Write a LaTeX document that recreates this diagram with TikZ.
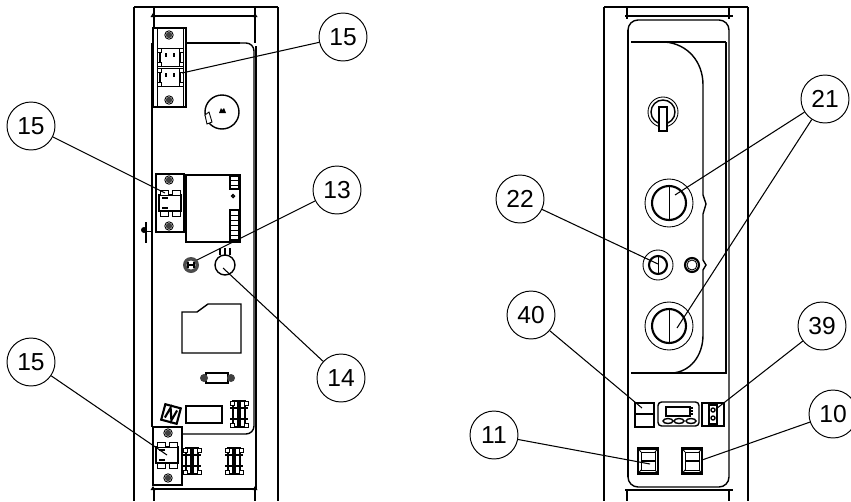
\documentclass[tikz,border=0pt]{standalone}
\usepackage{fontspec}
\setmainfont{Liberation Sans}
\usepackage{tikz}

\tikzset{
  callout/.style={draw,circle,minimum size=0.96cm,inner sep=0pt,font=\fontsize{14}{16}\selectfont,line width=0.55pt},
  leader/.style={line width=0.6pt},
  thinline/.style={line width=0.5pt},
  midline/.style={line width=0.8pt},
  heavyline/.style={line width=1.2pt}
}
% one relay, centred on (#1,#2), half width #3, half height #4
\newcommand{\relayunit}[4]{
  \begin{scope}[shift={(#1,#2)}]
    \draw[heavyline] (-#3,-#4+5) rectangle (#3,#4-5);
    \draw[thinline,fill=white] (-#3+1,-#4) rectangle (-2,-#4+5);
    \draw[thinline,fill=white] (2,-#4) rectangle (#3-1,-#4+5);
    \draw[thinline,fill=white] (-#3+1,#4-5) rectangle (-2,#4);
    \draw[thinline,fill=white] (2,#4-5) rectangle (#3-1,#4);
  \end{scope}
}
% one of the stacked relays of the top bracket
\newcommand{\pairunit}[2]{
  \begin{scope}[shift={(#1,#2)}]
    \draw[thinline] (-10,-9) rectangle (10,9);
    \draw[heavyline] (-10,-5) -- (-10,5) (10,-5) -- (10,5);
    \draw[midline] (-4,-4) -- (-4,0) (4,-4) -- (4,0);
    \draw[thinline,fill=white] (-13,-9) rectangle (-9,-5);
    \draw[thinline,fill=white] (9,-9) rectangle (13,-5);
    \draw[thinline,fill=white] (-13,5) rectangle (-9,9);
    \draw[thinline,fill=white] (9,5) rectangle (13,9);
  \end{scope}
}
\newcommand{\screwhead}[2]{
  \fill[black!75] (#1,#2) circle (3.2);
  \draw[thinline] (#1,#2) circle (4.2);
}
% terminal block, centred on (#1,#2)
\newcommand{\termblock}[2]{
  \begin{scope}[shift={(#1,#2)}]
    \draw[midline] (-6,-13) rectangle (-1,13);
    \draw[midline] (1,-13) rectangle (6,13);
    \draw[midline] (-9,-6) -- (9,-6);
    \draw[midline] (-9,5) -- (9,5);
    \foreach \px/\py in {-9/-13,5/-13,-9/9,5/9}{
      \draw[thinline,fill=white] (\px,\py) rectangle ++(4,4);
    }
  \end{scope}
}
% rocker switch, centred on (#1,#2)
\newcommand{\rockerunit}[2]{
  \begin{scope}[shift={(#1,#2)}]
    \draw[heavyline] (-10,-12.5) rectangle (10,12.5);
    \draw[thinline] (-7,-9) rectangle (7,9);
    \draw[midline] (-7,0) -- (7,0);
    \draw[thinline] (-10,-12.5) -- (-7,-9) (10,-12.5) -- (7,-9);
    \draw[thinline] (-10,12.5) -- (-7,9) (10,12.5) -- (7,9);
  \end{scope}
}
% large push button, centred on (#1,#2)
\newcommand{\pushunit}[2]{
  \draw[thinline] (#1,#2) circle (24);
  \draw[heavyline] (#1,#2) circle (17);
  \draw[thinline] (#1,#2-17) -- (#1,#2+17);
}
% small dimension tip, pointing up, at (#1,#2)
\newcommand{\dimtip}[2]{
  \fill (#1-2.5,#2+1) -- (#1,#2-3) -- (#1+2.5,#2+1) -- cycle;
}

\begin{document}
\begin{tikzpicture}[x=0.02cm,y=-0.02cm]
  \useasboundingbox (0,0) rectangle (851,501);

  % left view: frame
  \draw[midline] (134,7) -- (134,501);
  \draw[heavyline] (278,7) -- (278,501);
  \draw[midline] (134,7) -- (278,7);
  \draw[midline] (154,7) -- (154,30);
  \draw[midline] (154,489) -- (154,501);
  \draw[midline] (255,7) -- (255,43);
  \draw[midline] (256,46) -- (256,489);
  \draw[midline] (255,489) -- (255,501);
  \draw[midline] (153,16) -- (256,16);
  \draw[midline] (153,489) -- (256,489);
  \dimtip{153}{16}
  \dimtip{255}{16}
  \dimtip{153}{489}
  \dimtip{255}{489}

  % left view: panel
  \draw[heavyline] (152,43) -- (240,43);
  \draw[midline] (240,43) -- (246,43) arc (-90:0:8) -- (254,426) arc (0:90:8) -- (182,434);
  \draw[heavyline] (152,43) -- (152,427);

  % left view: top bracket
  \draw[midline,fill=white] (153,28) rectangle (186,107);
  \draw[thinline] (157,28) -- (157,107) (183,28) -- (183,107);
  \screwhead{169}{35}
  \screwhead{169}{100}
  \pairunit{170}{57}
  \pairunit{170}{77}
  \draw[midline] (222,112) circle (17);
  \fill (219,113) -- (221,108) -- (222,110) -- (224,108) -- (226,113) -- cycle;
  \draw[thinline,fill=white] (205,115) -- (209,112) -- (212,122) -- (207,124) -- cycle;

  % left view: middle bracket and block
  \draw[midline] (156,174) rectangle (184,232);
  \screwhead{169}{180}
  \screwhead{169}{226}
  \relayunit{170}{203}{11}{13}
  \draw[midline] (162,198) -- (168,198) (162,208) -- (168,208);
  \draw[midline] (186,175) rectangle (240,242);
  \draw[midline] (230,176) rectangle (239,189);
  \draw[thinline] (230,180) -- (239,180) (230,185) -- (239,185);
  \draw[midline] (230,210) rectangle (239,240);
  \foreach \ly in {215,220,225,230,235}{
    \draw[thinline] (230,\ly) -- (239,\ly);
  }
  \draw[midline] (233,196) circle (1.5);
  \draw[heavyline] (146,222) -- (146,243);
  \fill (144,230) circle (3);
  \draw[thinline] (146,231) -- (152,231);

  % left view: small parts
  \fill[black!70] (191,265) circle (8);
  \fill[white] (191,265) circle (4.5);
  \draw[midline] (188,262) -- (188,268) (188,265) -- (194,265) (194,262) -- (194,268);
  \draw[midline] (225,265) circle (10);
  \draw[heavyline] (220,248) -- (220,255) (225,248) -- (225,255) (230,248) -- (230,255);
  \draw[midline] (182,353) -- (182,312) -- (197,312) -- (208,304) -- (241,304) -- (241,353) -- cycle;

  % left view: lower parts
  \draw[midline] (206,373) rectangle (228,383);
  \fill[black!75] (204,378) circle (4);
  \fill[black!75] (231,378) circle (4);
  \begin{scope}[rotate around={-15:(171,414)}]
    \draw[heavyline] (163,406) rectangle (179,422);
    \draw[heavyline] (166,419) -- (169,408) -- (173,420) -- (176,409);
  \end{scope}
  \draw[heavyline] (186,406) rectangle (222,423);
  \termblock{239}{414}
  \termblock{192}{461}
  \termblock{234}{461}
  \draw[midline,fill=white] (153,427) rectangle (182,485);
  \screwhead{168}{433}
  \screwhead{168}{478}
  \relayunit{167}{455}{11}{13}
  \draw[midline] (159,450) -- (165,450) (159,460) -- (165,460);

  % right view: frame
  \draw[midline] (604,7) -- (604,501);
  \draw[midline] (748,7) -- (748,501);
  \draw[midline] (604,7) -- (748,7);
  \draw[midline] (627,7) -- (627,19);
  \draw[midline] (729,7) -- (729,19);
  \draw[midline] (627,490) -- (627,501);
  \draw[midline] (729,490) -- (729,501);
  \draw[heavyline] (625,16) -- (733,16);
  \draw[heavyline] (625,490) -- (733,490);

  % right view: panel
  \draw[midline] (628,30) arc (180:270:10) -- (719,20) arc (270:360:10) -- (729,477) arc (0:90:10) -- (638,487) arc (90:180:10) -- cycle;
  \draw[heavyline] (628,30) -- (628,477);
  \draw[midline] (726,42) -- (726,374);
  \draw[heavyline] (631,42) -- (665,42);
  \draw[midline] (665,42) -- (726,42);
  \draw[midline] (665,42) .. controls (688,44) and (703,62) .. (703,85) -- (703,195) -- (706,204) -- (703,214) -- (703,260) -- (706,265) -- (703,270) -- (703,335) .. controls (703,356) and (690,372) .. (672,373);
  \draw[heavyline] (631,373) -- (672,373);
  \draw[midline] (672,373) -- (726,373);

  % right view: controls
  \draw[thinline] (663,112) circle (15);
  \draw[midline] (663,112) circle (12);
  \draw[midline,fill=white] (659,107) rectangle (667,131);
  \pushunit{669}{203}
  \pushunit{669}{326}
  \draw[thinline] (658,265) circle (15);
  \draw[heavyline] (658,265) circle (9);
  \draw[thinline] (658,256) -- (658,274);
  \draw[heavyline] (692,265) circle (7);
  \draw[thinline] (692,265) circle (5);

  % right view: lower row
  \draw[heavyline] (635,403) rectangle (654,427);
  \draw[midline] (635,414) -- (654,414);
  \draw[midline,rounded corners=2] (658,402) rectangle (699,426);
  \draw[midline] (666,407) rectangle (690,416);
  \draw[midline] (691,408) -- (693,408) (691,411) -- (693,411) (691,414) -- (693,414);
  \foreach \ox in {668,679,691}{
    \draw[midline] (\ox,421) ellipse (5 and 2.5);
  }
  \draw[midline] (702,403) rectangle (724,426);
  \draw[midline] (709,405) rectangle (717,424);
  \draw[midline] (713,410) circle (2);
  \draw[midline] (713,418) circle (2);
  \rockerunit{648}{461}
  \rockerunit{692}{461}

  % callouts and leaders
  \node[callout] (top15) at (343,37) {15};
  \node[callout] (mid15) at (31,126) {15};
  \node[callout] (low15) at (31,362) {15};
  \node[callout] (pot13) at (337,190) {13};
  \node[callout] (pot14) at (341,378) {14};
  \node[callout] (btn22) at (520,199) {22};
  \node[callout] (btn21) at (825,99) {21};
  \node[callout] (sw40) at (531,315) {40};
  \node[callout] (sw39) at (822,326) {39};
  \node[callout] (sw11) at (494,435) {11};
  \node[callout] (sw10) at (833,414) {10};

  \coordinate (P_top15) at (182,73);
  \coordinate (P_mid15) at (165,193);
  \coordinate (P_low15) at (167,455);
  \coordinate (P_pot13) at (197,260);
  \coordinate (P_pot14) at (223,268);
  \coordinate (P_btn22) at (658,264);
  \coordinate (P_btn21a) at (675,195);
  \coordinate (P_btn21b) at (677,328);
  \coordinate (P_sw40) at (642,408);
  \coordinate (P_sw39) at (716,409);
  \coordinate (P_sw11) at (650,464);
  \coordinate (P_sw10) at (702,460);

  \draw[leader] (top15) -- (P_top15);
  \draw[leader] (mid15) -- (P_mid15);
  \draw[leader] (low15) -- (P_low15);
  \draw[leader] (pot13) -- (P_pot13);
  \draw[leader] (pot14) -- (P_pot14);
  \draw[leader] (btn22) -- (P_btn22);
  \draw[leader] (btn21) -- (P_btn21a);
  \draw[leader] (btn21) -- (P_btn21b);
  \draw[leader] (sw40) -- (P_sw40);
  \draw[leader] (sw39) -- (P_sw39);
  \draw[leader] (sw11) -- (P_sw11);
  \draw[leader] (sw10) -- (P_sw10);
\end{tikzpicture}
\end{document}
